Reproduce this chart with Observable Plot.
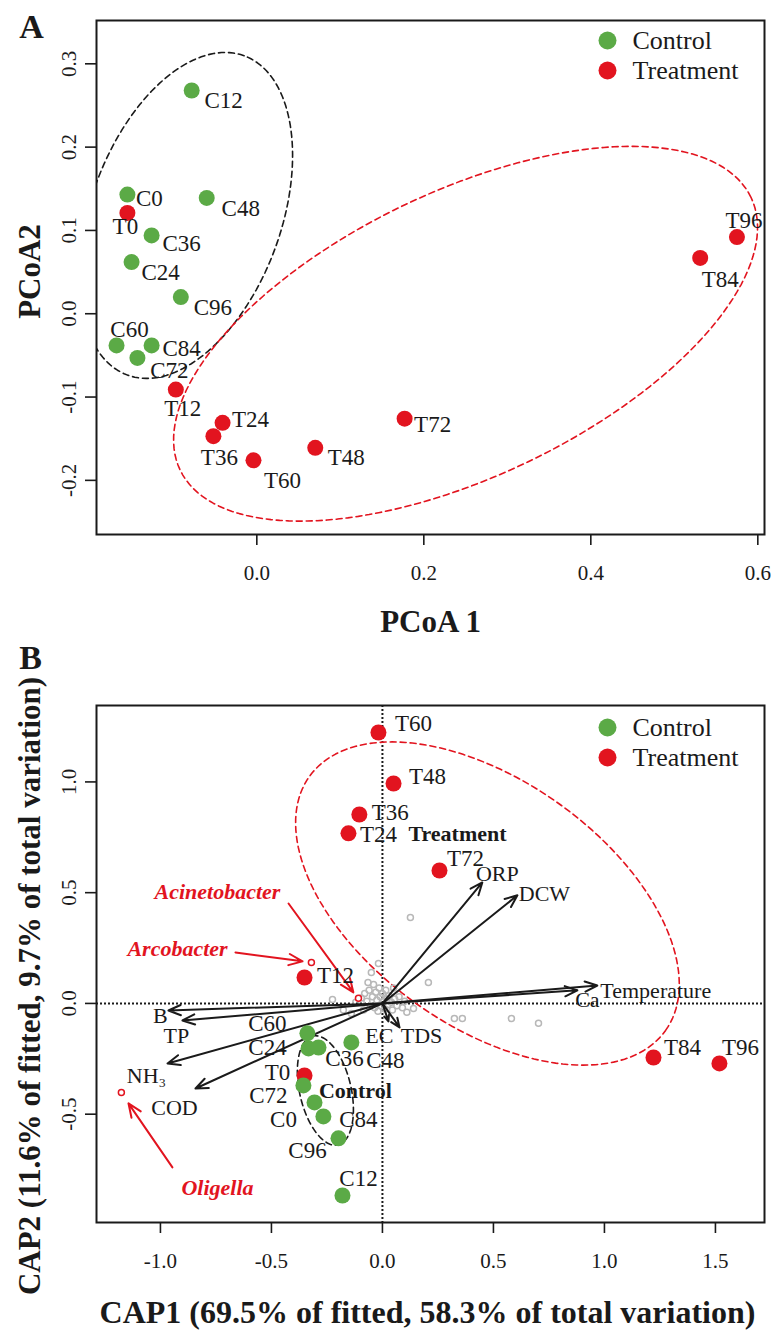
<!DOCTYPE html>
<html><head><meta charset="utf-8">
<script src="https://cdn.jsdelivr.net/npm/d3@7"></script>
<script src="https://cdn.jsdelivr.net/npm/@observablehq/plot@0.6"></script>
<style>body{margin:0;background:#fff;} svg{display:block;}</style>
</head><body>
<div id="chart"></div>
<script>
// ---------- data ----------
const groups = ["Control", "Treatment"];
const samples = ["C0","C12","C24","C36","C48","C60","C72","C84","C96","T0","T12","T24","T36","T48","T60","T72","T84","T96"];
// Panel A: PCoA
const pcoa1 = [-0.155,-0.078,-0.150,-0.126,-0.060,-0.168,-0.143,-0.126,-0.091,-0.155,-0.097,-0.041,-0.052,0.070,-0.004,0.177,0.531,0.575];
const pcoa2 = [0.143,0.268,0.062,0.094,0.139,-0.038,-0.053,-0.038,0.020,0.121,-0.091,-0.131,-0.147,-0.161,-0.176,-0.126,0.067,0.092];
const xTicksA = [0, 0.2, 0.4, 0.6];
const yTicksA = [-0.2, -0.1, 0, 0.1, 0.2, 0.3];
// Panel B: CAP
const cap1 = [-0.306,-0.180,-0.333,-0.288,-0.140,-0.338,-0.356,-0.266,-0.198,-0.351,-0.351,-0.153,-0.104,0.050,-0.018,0.257,1.221,1.518];
const cap2 = [-0.447,-0.867,-0.203,-0.199,-0.176,-0.135,-0.370,-0.510,-0.609,-0.325,0.117,0.768,0.853,0.993,1.223,0.600,-0.244,-0.271];
const xTicksB = [-1, -0.5, 0, 0.5, 1, 1.5];
const yTicksB = [-0.5, 0, 0.5, 1];
// environmental vectors
const envNames = ["ORP","DCW","Temperature","Ca","EC","TDS","B","TP","NH\u2083","COD"];
const envCap1 = [0.450,0.608,0.968,0.878,0.027,0.077,-0.964,-0.901,-0.968,-0.842];
const envCap2 = [0.546,0.488,0.081,0.059,-0.081,-0.108,-0.032,-0.077,-0.271,-0.384];
// genera (species scores)
const generaGray1 = [0.126,-0.050,-0.018,0.207,-0.225,0.324,0.360,0.581,0.703,0.140,-0.176,-0.140,-0.095,-0.080,-0.070,-0.060,-0.055,-0.045,-0.040,-0.035,-0.030,-0.025,-0.020,-0.015,-0.010,-0.005,0.000,0.005,0.010,0.015,0.020,0.025,0.030,0.040,0.045,0.055,0.065,0.075,0.090,0.100,-0.120,-0.085,0.050,0.110,-0.065];
const generaGray2 = [0.388,0.140,0.180,0.095,0.018,-0.068,-0.068,-0.068,-0.090,-0.023,-0.030,-0.045,0.025,0.045,0.010,0.060,-0.010,0.030,0.085,-0.020,0.050,0.015,-0.035,0.070,0.030,-0.010,0.045,0.010,-0.025,0.060,0.020,-0.005,0.035,0.005,-0.030,0.020,-0.010,0.030,-0.020,0.010,0.005,-0.030,0.070,-0.040,0.095];
const keyGenera = ["Arcobacter","Acinetobacter","Oligella"];
const keyCap1 = [-0.320,-0.108,-1.176];
const keyCap2 = [0.185,0.023,-0.402];
const keyLabelCap1 = [-0.923,-0.743,-0.743];
const keyLabelCap2 = [0.248,0.501,-0.831];
const keyArrowFrom1 = [-0.662,-0.423,-0.946];
const keyArrowFrom2 = [0.230,0.451,-0.740];
const keyArrowTo1 = [-0.360,-0.131,-1.144];
const keyArrowTo2 = [0.190,0.050,-0.451];
// group ellipses: center, semi-axes, rotation (deg)
const ellipsesA = [
  {group:"Control", cx:-0.085, cy:0.118, a:0.204, b:0.114, angle:70},
  {group:"Treatment", cx:0.250, cy:-0.024, a:0.379, b:0.171, angle:25.6}
];
const ellipsesB = [
  {group:"Control", cx:-0.257, cy:-0.393, a:0.252, b:0.116, angle:102.9},
  {group:"Treatment", cx:0.473, cy:0.451, a:0.986, b:0.554, angle:-35.6}
];
const groupLabelsB = [{name:"Treatment", x:0.338, y:0.765},{name:"Control", x:-0.122, y:-0.393}];

// ---------- styling / layout ----------
const GREEN = "#5BAA46", RED = "#E2141F", INK = "#1a1a1a";
const FONT = "Liberation Serif, 'Times New Roman', serif";
const groupColor = g => g === "Control" ? GREEN : RED;
const ellColor = g => g === "Control" ? INK : RED;
const labelOffA = {C0:[22,4],C12:[32,10],C24:[29,11],C36:[30,8],C48:[34,11],C60:[13,-16],C72:[32,13],C84:[30,3],C96:[32,11],
  T0:[-2,14],T12:[7,19],T24:[28,-3],T36:[6,21],T48:[31,10],T60:[29,20],T72:[28,6],T84:[20,22],T96:[7,-16]};
const labelOffB = {C0:[-31,17],C12:[16,-17],C24:[-41,-1],C36:[26,11],C48:[34,18],C60:[-40,-10],C72:[-35,10],C84:[35,3],C96:[-31,12],
  T0:[-27,-3],T12:[31,-2],T24:[30,1],T36:[31,-2],T48:[34,-7],T60:[35,-9],T72:[26,-12],T84:[29,-10],T96:[21,-16]};
const envOff = {"ORP":[15,-9,"middle"],"DCW":[27,-1,"middle"],"Temperature":[3,5,"start"],"Ca":[10,10,"middle"],"EC":[-9,15,"middle"],
  "TDS":[22,9,"middle"],"B":[-8,5,"middle"],"TP":[-6,15,"middle"],"NH\u2083":[-21,12,"middle"],"COD":[-21,19,"middle"]};

function ellipsePts(e) {
  const pts = [], r = e.angle * Math.PI / 180, c = Math.cos(r), s = Math.sin(r);
  for (let i = 0; i <= 160; i++) {
    const t = 2 * Math.PI * i / 160, u = e.a * Math.cos(t), v = e.b * Math.sin(t);
    pts.push({group: e.group, x: e.cx + u * c - v * s, y: e.cy + u * s + v * c});
  }
  return pts;
}

const tableA = samples.map((s, i) => ({name: s, group: s[0] === "C" ? "Control" : "Treatment", x: pcoa1[i], y: pcoa2[i]}));
const tableB = samples.map((s, i) => ({name: s, group: s[0] === "C" ? "Control" : "Treatment", x: cap1[i], y: cap2[i]}));
const envTable = envNames.map((n, i) => ({name: n, x: envCap1[i], y: envCap2[i]}));
const grayTable = generaGray1.map((v, i) => ({x: v, y: generaGray2[i]}));
const keyTable = keyGenera.map((n, i) => ({name: n, x: keyCap1[i], y: keyCap2[i], lx: keyLabelCap1[i], ly: keyLabelCap2[i],
  x1: keyArrowFrom1[i], y1: keyArrowFrom2[i], x2: keyArrowTo1[i], y2: keyArrowTo2[i]}));

const C = {textAnchor: "middle", lineAnchor: "middle"};
function commonMarks(xTicks, yTicks) {
  return [
    Plot.axisX({ticks: xTicks, tickSize: 11, tickFormat: () => "", label: null, strokeWidth: 1.6, stroke: INK}),
    Plot.axisY({ticks: yTicks, tickSize: 11, tickFormat: () => "", label: null, strokeWidth: 1.6, stroke: INK}),
    Plot.text(xTicks, {x: d => d, frameAnchor: "bottom", dy: 39, text: d => d.toFixed(1), fontSize: 21, fill: INK, ...C}),
    Plot.text(yTicks, {y: d => d, frameAnchor: "left", dx: -27, rotate: -90, text: d => d.toFixed(1), fontSize: 21, fill: INK, ...C})
  ];
}
function legendMarks(dyTop) {
  return groups.flatMap((g, i) => [
    Plot.dot([g], {frameAnchor: "top-right", dx: -157, dy: dyTop + 30 * i, r: 9, fill: groupColor(g), stroke: null}),
    Plot.text([g], {frameAnchor: "top-right", dx: -132, dy: dyTop + 30 * i, text: d => d, textAnchor: "start", lineAnchor: "middle", fontSize: 26, fill: INK})
  ]);
}
function sampleMarks(table, off) {
  const ordered = [...table.filter(d => d.group === "Treatment"), ...table.filter(d => d.group === "Control")];
  return [
    Plot.dot(ordered, {x: "x", y: "y", r: 8, fill: d => groupColor(d.group), stroke: null}),
    ...table.map(d => Plot.text([d], {x: "x", y: "y", text: "name", dx: off[d.name][0], dy: off[d.name][1], fontSize: 23, fill: INK}))
  ];
}

// ---------- Panel A ----------
const plotA = Plot.plot({
  width: 771, height: 640,
  marginLeft: 96, marginRight: 7, marginTop: 20, marginBottom: 106,
  x: {domain: [-0.192, 0.608]},
  y: {domain: [-0.265, 0.352]},
  style: {fontFamily: FONT, fontSize: "21px", color: INK, background: "white", overflow: "visible"},
  marks: [
    ...ellipsesA.map(e => Plot.line(ellipsePts(e), {x: "x", y: "y", stroke: ellColor(e.group), strokeWidth: 1.6, strokeDasharray: "6,4", clip: true})),
    ...sampleMarks(tableA, labelOffA),
    ...commonMarks(xTicksA, yTicksA),
    Plot.frame({stroke: INK, strokeWidth: 2}),
    ...legendMarks(20),
    Plot.text(["PCoA 1"], {frameAnchor: "bottom", dy: 88, text: d => d, fontSize: 31, fontWeight: "bold", fill: INK, ...C}),
    Plot.text(["PCoA2"], {frameAnchor: "left", dx: -66, dy: -6, rotate: -90, text: d => d, fontSize: 31, fontWeight: "bold", fill: INK, ...C}),
    Plot.text(["A"], {frameAnchor: "top-left", dx: -65, dy: 7, text: d => d, fontSize: 34, fontWeight: "bold", fill: INK, ...C})
  ]
});

// ---------- Panel B ----------
const plotB = Plot.plot({
  width: 771, height: 693,
  marginLeft: 96, marginRight: 7, marginTop: 65, marginBottom: 111,
  x: {domain: [-1.288, 1.721]},
  y: {domain: [-0.989, 1.345]},
  style: {fontFamily: FONT, fontSize: "21px", color: INK, background: "white", overflow: "visible"},
  marks: [
    Plot.ruleX([0], {stroke: INK, strokeWidth: 2, strokeDasharray: "2,2"}),
    Plot.ruleY([0], {stroke: INK, strokeWidth: 2, strokeDasharray: "2,2"}),
    ...ellipsesB.map(e => Plot.line(ellipsePts(e), {x: "x", y: "y", stroke: ellColor(e.group), strokeWidth: 1.6, strokeDasharray: "6,4", clip: true})),
    Plot.dot(grayTable, {x: "x", y: "y", r: 3, stroke: "#b8b8b8", strokeWidth: 1.5, fill: "none"}),
    Plot.dot(keyTable, {x: "x", y: "y", r: 3, stroke: RED, strokeWidth: 1.5, fill: "white"}),
    Plot.arrow(keyTable, {x1: "x1", y1: "y1", x2: "x2", y2: "y2", stroke: RED, strokeWidth: 2, headLength: 11, headAngle: 45}),
    Plot.text(keyTable, {x: "lx", y: "ly", text: "name", fontSize: 22, fontWeight: "bold", fontStyle: "italic", fill: RED}),
    Plot.arrow(envTable, {x1: d => 0, y1: d => 0, x2: "x", y2: "y", stroke: INK, strokeWidth: 2, headLength: 10, headAngle: 45}),
    ...envTable.map(d => Plot.text([d], {x: "x", y: "y", text: "name", dx: envOff[d.name][0], dy: envOff[d.name][1], textAnchor: envOff[d.name][2], fontSize: 22, fill: INK})),
    ...sampleMarks(tableB, labelOffB),
    Plot.text(groupLabelsB, {x: "x", y: "y", text: "name", fontSize: 22, fontWeight: "bold", fill: INK}),
    ...commonMarks(xTicksB, yTicksB),
    Plot.frame({stroke: INK, strokeWidth: 2}),
    ...legendMarks(22),
    Plot.text(["CAP1 (69.5% of fitted, 58.3% of total variation)"], {frameAnchor: "bottom", dy: 90, dx: -3, text: d => d, fontSize: 32, fontWeight: "bold", fill: INK, ...C}),
    Plot.text(["CAP2 (11.6% of fitted, 9.7% of total variation)"], {frameAnchor: "left", dx: -66, dy: 22, rotate: -90, text: d => d, fontSize: 31, fontWeight: "bold", fill: INK, ...C}),
    Plot.text(["B"], {frameAnchor: "top-left", dx: -66, dy: -47, text: d => d, fontSize: 34, fontWeight: "bold", fill: INK, ...C})
  ]
});

const root = document.getElementById("chart");
root.appendChild(plotA);
root.appendChild(plotB);
</script>
</body></html>
